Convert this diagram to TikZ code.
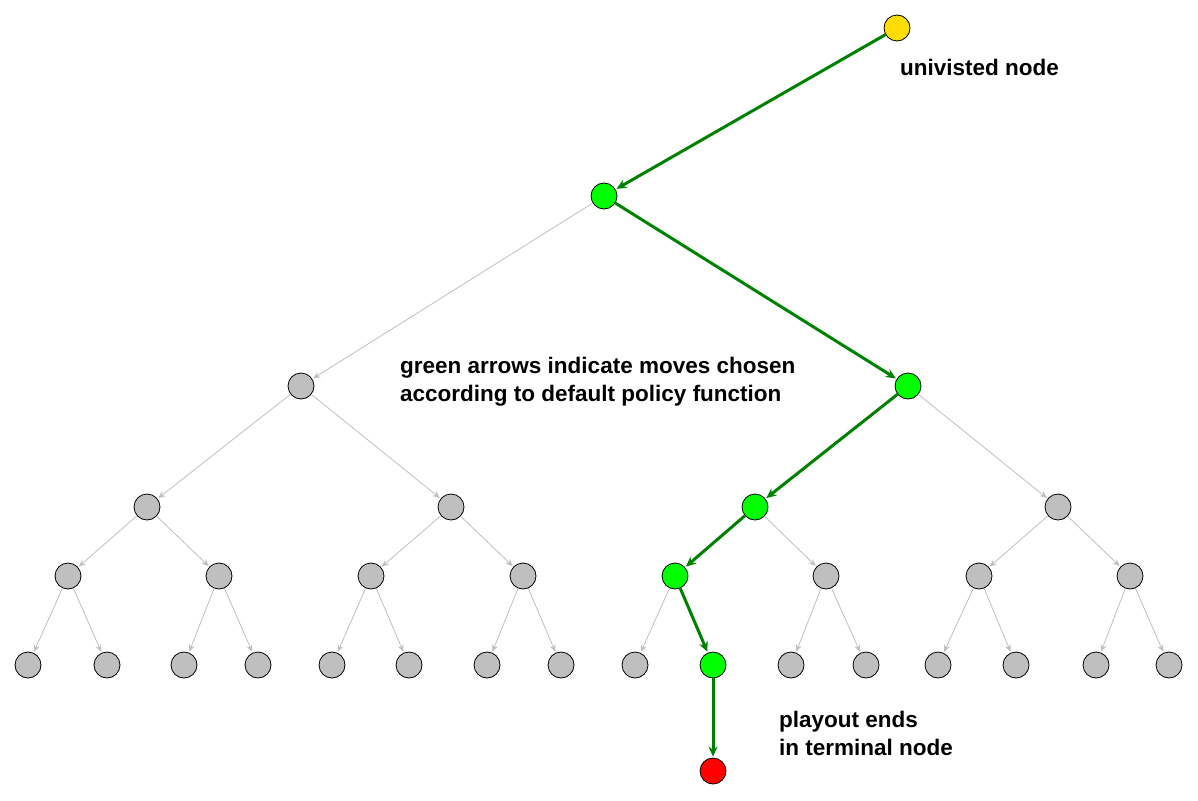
\documentclass[tikz,border=0pt]{standalone}
\usepackage{fontspec}
\setmainfont{Liberation Sans}
\usetikzlibrary{arrows.meta}
\begin{document}
\begin{tikzpicture}[x=1pt,y=-1pt,
  nd/.style={circle,draw=black,line width=0.8pt,minimum size=26pt,inner sep=0pt},
  gn/.style={nd,fill=gray!50},
  gr/.style={nd,fill=green},
  ga/.style={-{Stealth[length=7pt,width=6pt]},draw=black!25,line width=0.8pt,shorten >=1pt},
  ge/.style={-{Stealth[length=10pt,width=9pt]},draw=black!50!green,line width=3pt,shorten >=1pt},
  lb/.style={font=\fontsize{22.5}{28}\selectfont\bfseries,align=left,anchor=north west,inner sep=0pt}]
\useasboundingbox (0,0) rectangle (1198,800);
\node[nd,fill=yellow!80!orange] (r) at (897,28) {};
\node[gr] (a) at (604,196) {};
\node[gn] (b1) at (301,386) {};
\node[gr] (b2) at (908,386) {};
\node[gn] (c1) at (147,507) {};
\node[gn] (c2) at (451,507) {};
\node[gr] (c3) at (755,507) {};
\node[gn] (c4) at (1058,507) {};
\foreach \i/\x in {1/68,2/219,3/371,4/523,6/826,7/979,8/1130}
  \node[gn] (d\i) at (\x,576) {};
\node[gr] (d5) at (675,576) {};
\foreach \i/\x in {1/28,2/107,3/184,4/258,5/332,6/409,7/487,8/561,9/635,11/791,12/866,13/938,14/1016,15/1096,16/1169}
  \node[gn] (e\i) at (\x,665) {};
\node[gr] (e10) at (713,665) {};
\node[nd,fill=red] (t) at (713,771) {};
\draw[ge] (r) -- (a);
\draw[ga] (a) -- (b1);
\draw[ge] (a) -- (b2);
\draw[ga] (b1) -- (c1); \draw[ga] (b1) -- (c2);
\draw[ge] (b2) -- (c3); \draw[ga] (b2) -- (c4);
\draw[ga] (c1) -- (d1); \draw[ga] (c1) -- (d2);
\draw[ga] (c2) -- (d3); \draw[ga] (c2) -- (d4);
\draw[ge] (c3) -- (d5); \draw[ga] (c3) -- (d6);
\draw[ga] (c4) -- (d7); \draw[ga] (c4) -- (d8);
\foreach \p/\a/\b in {1/1/2,2/3/4,3/5/6,4/7/8,6/11/12,7/13/14,8/15/16}{
  \draw[ga] (d\p) -- (e\a); \draw[ga] (d\p) -- (e\b);}
\draw[ga] (d5) -- (e9); \draw[ge] (d5) -- (e10);
\draw[ge] (e10) -- (t);
\node[lb] (l1) at (900,59) {univisted node};
\node[lb] (l2) at (400,357) {green arrows indicate moves chosen\\according to default policy function};
\node[lb] (l3) at (779,711) {playout ends\\in terminal node};
\end{tikzpicture}
\end{document}
